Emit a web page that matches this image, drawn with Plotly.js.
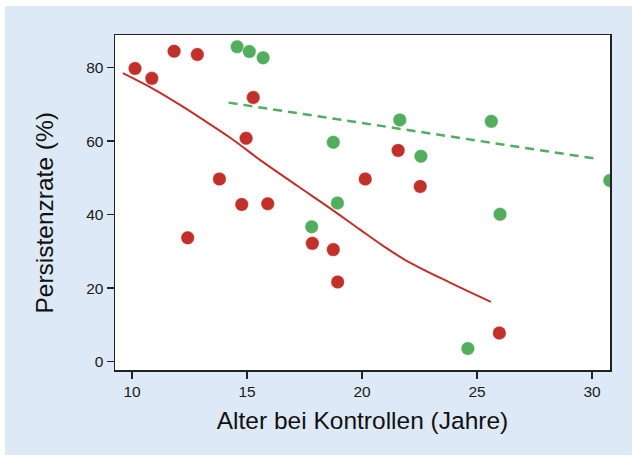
<!DOCTYPE html>
<html>
<head>
<meta charset="utf-8">
<script src="https://cdn.plot.ly/plotly-3.0.1.min.js"></script>
<style>
  html, body { margin: 0; padding: 0; background: #ffffff; }
  #chart { position: absolute; left: 5px; top: 6px; width: 627px; height: 449px; }
</style>
</head>
<body>
<div id="chart"></div>
<script>
// Red group (points)
const redX = [10.13, 10.86, 11.83, 12.84, 15.27, 14.96, 13.8, 14.77, 15.9, 12.42, 17.84, 18.75, 18.94, 21.57, 20.14, 22.53, 25.97];
const redY = [79.8, 77.1, 84.5, 83.6, 71.9, 60.8, 49.7, 42.8, 43.0, 33.7, 32.2, 30.5, 21.7, 57.5, 49.7, 47.7, 7.8];
// Green group (points)
const greenX = [14.57, 15.1, 15.7, 18.75, 18.93, 17.81, 21.64, 25.62, 22.56, 30.77, 26.0, 24.6];
const greenY = [85.7, 84.4, 82.7, 59.7, 43.2, 36.7, 65.8, 65.4, 55.9, 49.3, 40.1, 3.6];
// Red smoothed curve
const redFitX = [9.6, 10.9, 12.0, 13.0, 14.3, 15.7, 17.2, 18.6, 19.9, 20.9, 21.9, 23.8, 25.6];
const redFitY = [78.5, 74.3, 70.2, 66.2, 60.8, 54.3, 47.8, 41.8, 36.0, 31.6, 27.6, 21.6, 16.3];
// Green linear fit (dashed)
const greenFitX = [14.2, 30.3];
const greenFitY = [70.5, 55.1];
// Axis ticks
const xTicks = [10, 15, 20, 25, 30];
const yTicks = [0, 20, 40, 60, 80];

const RED = '#c2302a';
const GREEN = '#52ae5e';

const traces = [
  { x: redFitX, y: redFitY, mode: 'lines', type: 'scatter', line: { color: RED, width: 2, shape: 'spline', smoothing: 1 }, hoverinfo: 'skip' },
  { x: greenFitX, y: greenFitY, mode: 'lines', type: 'scatter', line: { color: GREEN, width: 2.5, dash: '9px,6px' }, hoverinfo: 'skip' },
  { x: redX, y: redY, mode: 'markers', type: 'scatter', marker: { color: RED, size: 13.5, line: { color: 'rgba(255,255,255,0.6)', width: 0.6 } } },
  { x: greenX, y: greenY, mode: 'markers', type: 'scatter', marker: { color: GREEN, size: 13.5, line: { color: 'rgba(255,255,255,0.6)', width: 0.6 } } }
];

const layout = {
  width: 627, height: 449,
  paper_bgcolor: '#dde9f7',
  plot_bgcolor: '#ffffff',
  showlegend: false,
  margin: { l: 110, r: 22, t: 29, b: 85 },
  font: { family: 'Liberation Sans, Arial, sans-serif', color: '#1a1a1a' },
  xaxis: {
    range: [9.26, 30.78],
    tickvals: xTicks,
    ticktext: xTicks.map(String),
    ticks: 'outside', ticklen: 7, tickwidth: 1.5, tickcolor: '#222',
    showline: true, linecolor: '#222', linewidth: 1.5, mirror: true,
    showgrid: false, zeroline: false,
    tickfont: { size: 15.5, color: '#1a1a1a' },
    title: { text: 'Alter bei Kontrollen (Jahre)', font: { size: 24.5, color: '#111' }, standoff: 13 }
  },
  yaxis: {
    range: [-2.26, 88.9],
    tickvals: yTicks,
    ticktext: yTicks.map(String),
    ticks: 'outside', ticklen: 7, tickwidth: 1.5, tickcolor: '#222',
    showline: true, linecolor: '#222', linewidth: 1.5, mirror: true,
    showgrid: false, zeroline: false,
    tickfont: { size: 15.5, color: '#1a1a1a' }
  },
  annotations: [{
    text: 'Persistenzrate (%)',
    xref: 'paper', yref: 'paper', x: 0, y: 0.47,
    xanchor: 'center', yanchor: 'middle', xshift: -70,
    textangle: -90, showarrow: false,
    font: { size: 24.5, color: '#111' }
  }]
};

Plotly.newPlot('chart', traces, layout, { displayModeBar: false, staticPlot: true });
</script>
</body>
</html>
